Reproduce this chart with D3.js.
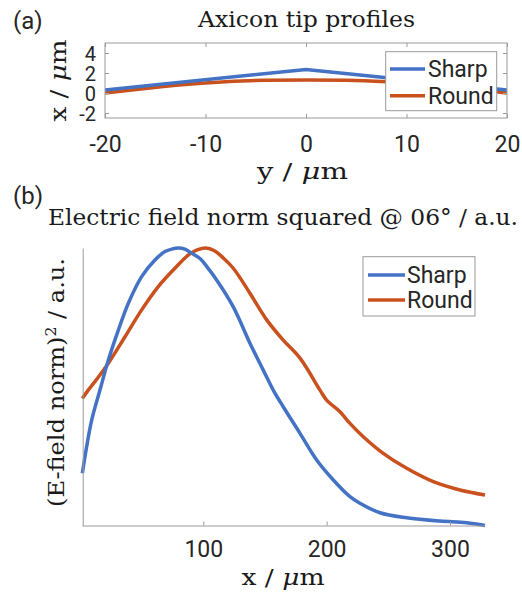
<!DOCTYPE html>
<html><head><meta charset="utf-8">
<script src="https://cdn.jsdelivr.net/npm/d3@7"></script>
<style>
html,body{margin:0;padding:0;background:#fff;}
svg{display:block;}
.tick-label{font-family:Roboto, "Noto Sans", sans-serif;font-size:23px;fill:#262626;}
.serif{font-family:"DejaVu Serif", "Liberation Serif", serif;fill:#1a1a1a;}
</style></head>
<body>
<svg id="chart" width="522" height="594"></svg>
<script>
// ---------- DATA ----------
// Panel (a): axicon tip profiles (y in µm, x in µm)
const profileYSharp = [-20, 0, 20];
const profileSharp  = [0.3, 2.35, 0.3];
const profileYRound = [-20, -16, -12, -8, -4, 0, 4, 8, 12, 16, 20];
const profileRound  = [0.0, 0.45, 0.85, 1.12, 1.27, 1.3, 1.27, 1.12, 0.85, 0.45, 0.0];
const xTicksA = [-20, -10, 0, 10, 20];
const yTicksA = [-2, 0, 2, 4];

// Panel (b): electric field norm squared (a.u.) vs x (µm)
const sharpX = [1.9, 5.4, 9.5, 16.2, 23, 31.1, 39.2, 50, 60.8, 68.9, 75, 79.7, 85, 90.6, 97.3, 103, 110.8, 124.3, 137.8, 148.6, 156.7, 164.8, 178.4, 191.9, 205.4, 218.9, 227, 243.2, 264.9, 291.9, 313.5, 328.4];
const sharpE = [0.188, 0.284, 0.380, 0.488, 0.596, 0.704, 0.801, 0.897, 0.957, 0.987, 0.997, 1.0, 0.996, 0.981, 0.962, 0.932, 0.885, 0.788, 0.657, 0.560, 0.488, 0.428, 0.332, 0.236, 0.164, 0.104, 0.080, 0.046, 0.028, 0.016, 0.010, 0.0];
const roundX = [1.9, 6.7, 14.8, 23, 36.5, 50, 63.5, 77, 88, 95, 102, 109, 116, 124.3, 137.8, 151.4, 164.8, 178.4, 194.6, 200, 210.8, 218.9, 229.7, 245.9, 264.9, 286.5, 308.1, 328.4];
const roundE = [0.458, 0.488, 0.534, 0.585, 0.680, 0.777, 0.861, 0.927, 0.975, 0.993, 1.0, 0.99, 0.965, 0.927, 0.837, 0.741, 0.668, 0.603, 0.488, 0.452, 0.410, 0.368, 0.320, 0.260, 0.206, 0.158, 0.128, 0.110];
const xTicksB = [100, 200, 300];

const seriesNames = ["Sharp", "Round"];
const colors = ["#4472c4", "#c8511e"];

// ---------- DRAW ----------
const svg = d3.select("#chart");
const axisColor = "#9a9a9a";
const LW = 3.5;

// ===== Panel (a) =====
const xA = d3.scaleLinear().domain([-20, 20]).range([105, 507]);
const yA = d3.scaleLinear().domain([-2.5, 5]).range([118, 43]);

svg.append("text").attr("x", 13).attr("y", 29).attr("class", "tick-label").style("font-size", "24px").text("(a)");
svg.append("text").attr("class", "serif").attr("x", 306.5).attr("y", 27)
  .attr("text-anchor", "middle").style("font-size", "22px")
  .attr("textLength", 217).attr("lengthAdjust", "spacingAndGlyphs").text("Axicon tip profiles");

const gA = svg.append("g");
svg.append("defs").append("clipPath").attr("id", "clipA")
  .append("rect").attr("x", 105).attr("y", 43).attr("width", 402).attr("height", 75);

const lineSharpA = d3.line().x((d, i) => xA(profileYSharp[i])).y(d => yA(d));
const lineRoundA = d3.line().x((d, i) => xA(profileYRound[i])).y(d => yA(d)).curve(d3.curveMonotoneX);
gA.append("path").attr("clip-path", "url(#clipA)").attr("d", lineRoundA(profileRound))
  .attr("fill", "none").attr("stroke", colors[1]).attr("stroke-width", LW);
gA.append("path").attr("clip-path", "url(#clipA)").attr("d", lineSharpA(profileSharp))
  .attr("fill", "none").attr("stroke", colors[0]).attr("stroke-width", LW);

gA.append("rect").attr("x", 105).attr("y", 43).attr("width", 402).attr("height", 75)
  .attr("fill", "none").attr("stroke", axisColor).attr("stroke-width", 1);

const axBottomA = d3.axisBottom(xA).tickValues(xTicksA).tickSize(-4).tickPadding(10).tickFormat(d3.format("d"));
const gxA = gA.append("g").attr("transform", "translate(0,118)").call(axBottomA);
const axTopA = d3.axisTop(xA).tickValues(xTicksA).tickSize(-4).tickFormat("");
const gxtA = gA.append("g").attr("transform", "translate(0,43)").call(axTopA);
const axLeftA = d3.axisLeft(yA).tickValues(yTicksA).tickSize(-4).tickPadding(9).tickFormat(d3.format("d"));
const gyA = gA.append("g").attr("transform", "translate(105,0)").call(axLeftA);
const axRightA = d3.axisRight(yA).tickValues(yTicksA).tickSize(-4).tickFormat("");
const gyrA = gA.append("g").attr("transform", "translate(507,0)").call(axRightA);
[gxA, gxtA, gyA, gyrA].forEach(g => {
  g.select(".domain").remove();
  g.selectAll(".tick line").attr("stroke", axisColor);
  g.selectAll(".tick text").attr("class", "tick-label").attr("fill", "#262626");
});
gxA.selectAll(".tick text").attr("dy", null).attr("y", 33.7).text(d => d < 0 ? "-" + Math.abs(d) : d);
gyA.selectAll(".tick text").attr("dy", "0.36em").style("font-size", "20px").text(d => d < 0 ? "-" + Math.abs(d) : d);

// axis labels (a)
const xlabA = svg.append("text").attr("class", "serif").attr("x", 302.5).attr("y", 179)
  .attr("text-anchor", "middle").style("font-size", "23px")
  .attr("textLength", 91).attr("lengthAdjust", "spacingAndGlyphs");
xlabA.append("tspan").text("y / ");
xlabA.append("tspan").style("font-style", "italic").text("μ");
xlabA.append("tspan").text("m");
const ylabA = svg.append("text").attr("class", "serif")
  .attr("transform", "translate(66,80.5) rotate(-90)")
  .attr("text-anchor", "middle").style("font-size", "23px")
  .attr("textLength", 82).attr("lengthAdjust", "spacingAndGlyphs");
ylabA.append("tspan").text("x / ");
ylabA.append("tspan").style("font-style", "italic").text("μ");
ylabA.append("tspan").text("m");

function legend(g, x, y, w, h, rows, sx0, sx1, tx) {
  g.append("rect").attr("x", x).attr("y", y).attr("width", w).attr("height", h)
    .attr("fill", "#fff").attr("stroke", axisColor).attr("stroke-width", 1);
  rows.forEach((r, i) => {
    g.append("line").attr("x1", sx0).attr("x2", sx1).attr("y1", r.ly).attr("y2", r.ly)
      .attr("stroke", colors[i]).attr("stroke-width", LW);
    g.append("text").attr("class", "tick-label").attr("x", tx).attr("y", r.ty).text(seriesNames[i]);
  });
}
legend(gA, 385.7, 51.7, 111, 59, [{ly: 69, ty: 77}, {ly: 95.7, ty: 103.5}], 390, 425, 428);

// ===== Panel (b) =====
const xB = d3.scaleLinear().domain([2.2, 328.4]).range([82.7, 485]);
const yB = d3.scaleLinear().domain([0, 1]).range([525.5, 248]);

svg.append("text").attr("x", 13).attr("y", 204).attr("class", "tick-label").style("font-size", "24px").text("(b)");
const titleB = svg.append("text").attr("class", "serif").attr("x", 283).attr("y", 225)
  .attr("text-anchor", "middle").style("font-size", "22.5px")
  .attr("textLength", 470).attr("lengthAdjust", "spacingAndGlyphs");
titleB.append("tspan").text("Electric field norm squared @ 06° / a.u.");

const gB = svg.append("g");
const lineB = (xs) => d3.line().x((d, i) => xB(xs[i])).y(d => yB(d)).curve(d3.curveCatmullRom.alpha(0.5));
gB.append("path").attr("d", lineB(roundX)(roundE)).attr("fill", "none")
  .attr("stroke", colors[1]).attr("stroke-width", LW);
gB.append("path").attr("d", lineB(sharpX)(sharpE)).attr("fill", "none")
  .attr("stroke", colors[0]).attr("stroke-width", LW);

const axBottomB = d3.axisBottom(xB).tickValues(xTicksB).tickSize(-4).tickPadding(10).tickFormat(d3.format("d"));
const gxB = gB.append("g").attr("transform", "translate(0,525.5)").call(axBottomB);
gxB.select(".domain").attr("stroke", axisColor).attr("d", "M82.7,0.5H485");
gxB.selectAll(".tick line").attr("stroke", axisColor);
gxB.selectAll(".tick text").attr("class", "tick-label").attr("fill", "#262626").attr("dy", null).attr("y", 31.5);
const axLeftB = d3.axisLeft(yB).tickValues([]).tickSize(0);
const gyB = gB.append("g").attr("transform", "translate(82.7,0)").call(axLeftB);
gyB.select(".domain").attr("stroke", axisColor);

const xlabB = svg.append("text").attr("class", "serif").attr("x", 283).attr("y", 585)
  .attr("text-anchor", "middle").style("font-size", "23px")
  .attr("textLength", 83).attr("lengthAdjust", "spacingAndGlyphs");
xlabB.append("tspan").text("x / ");
xlabB.append("tspan").style("font-style", "italic").text("μ");
xlabB.append("tspan").text("m");
const ylabB = svg.append("text").attr("class", "serif")
  .attr("transform", "translate(64,382.5) rotate(-90)")
  .attr("text-anchor", "middle").style("font-size", "23px")
  .attr("textLength", 249).attr("lengthAdjust", "spacingAndGlyphs");
ylabB.append("tspan").text("(E-field norm)");
ylabB.append("tspan").attr("dy", -8).style("font-size", "15px").text("2");
ylabB.append("tspan").attr("dy", 8).text(" / a.u.");

legend(gB, 363, 256.7, 112, 59.3, [{ly: 275, ty: 283}, {ly: 300, ty: 308.3}], 368, 405, 407);
</script>
</body></html>
